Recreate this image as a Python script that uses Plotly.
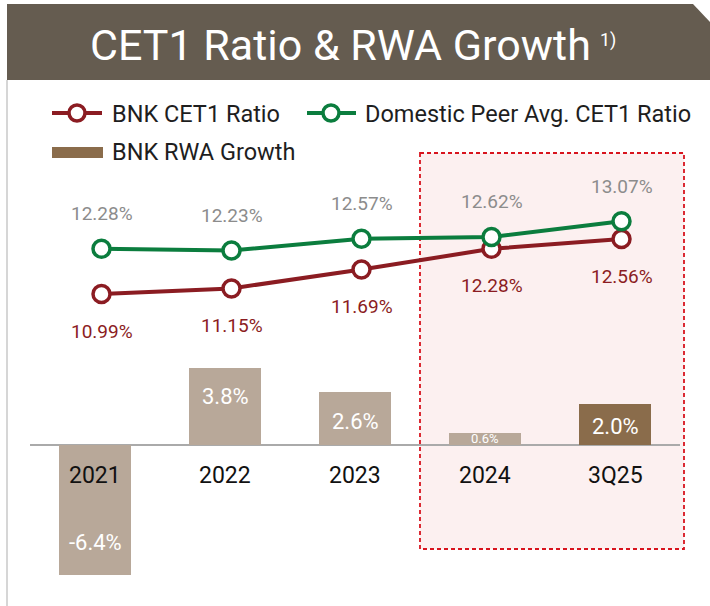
import plotly.graph_objects as go

# ---------------- data ----------------
categories = ["2021", "2022", "2023", "2024", "3Q25"]
bnk_cet1 = [10.99, 11.15, 11.69, 12.28, 12.56]
peer_cet1 = [12.28, 12.23, 12.57, 12.62, 13.07]
rwa_growth = [-6.4, 3.8, 2.6, 0.6, 2.0]
rwa_labels = ["-6.4%", "3.8%", "2.6%", "0.6%", "2.0%"]

# ---------------- styling ----------------
W, H = 710, 606
FONT = "Roboto"
RED = "#8b1c22"
GREEN = "#0b7d3e"
BAR = "#b8a899"
BAR_HI = "#8a6c4b"
TITLE_BG = "#655c50"
bar_colors = [BAR, BAR, BAR, BAR, BAR_HI]
bar_label_shift = [-33, 10, -3, 0, -2]
bar_label_size = [22, 22, 22, 13, 22]


def px(x):
    return x / W


def py(y):
    return 1 - y / H


fig = go.Figure()

fig.add_trace(go.Bar(
    x=categories, y=rwa_growth, width=0.555,
    marker=dict(color=bar_colors, line_width=0),
    xaxis="x", yaxis="y", showlegend=False, hoverinfo="skip",
))
fig.add_trace(go.Scatter(
    x=categories, y=bnk_cet1, mode="lines+markers",
    line=dict(color=RED, width=4),
    marker=dict(size=17, color="white", line=dict(color=RED, width=3.5)),
    xaxis="x2", yaxis="y2", showlegend=False, hoverinfo="skip",
))
fig.add_trace(go.Scatter(
    x=categories, y=peer_cet1, mode="lines+markers",
    line=dict(color=GREEN, width=4),
    marker=dict(size=17, color="white", line=dict(color=GREEN, width=3.5)),
    xaxis="x2", yaxis="y2", showlegend=False, hoverinfo="skip",
))

annotations = []
# category axes: annotation x given as category index
for i, v in enumerate(peer_cet1):
    annotations.append(dict(x=i, y=v, xref="x2", yref="y2", yshift=35,
                            text=f"{v:.2f}%", showarrow=False,
                            font=dict(family=FONT, size=19, color="#8c8c8c")))
for i, v in enumerate(bnk_cet1):
    annotations.append(dict(x=i, y=v, xref="x2", yref="y2", yshift=-37,
                            text=f"{v:.2f}%", showarrow=False,
                            font=dict(family=FONT, size=19, color=RED)))
for i, (v, t, s, fs) in enumerate(zip(rwa_growth, rwa_labels, bar_label_shift, bar_label_size)):
    annotations.append(dict(x=i, y=v / 2, xref="x", yref="y", yshift=s,
                            text=t, showarrow=False,
                            font=dict(family=FONT, size=fs, color="white")))
for i, c in enumerate(categories):
    annotations.append(dict(x=i, y=0, xref="x", yref="y", yshift=-31,
                            text=c, showarrow=False,
                            font=dict(family=FONT, size=23, color="#111111")))

# title
annotations.append(dict(x=px(340), y=py(45), xref="paper", yref="paper",
                        text="CET1 Ratio & RWA Growth", showarrow=False,
                        xanchor="center", yanchor="middle",
                        font=dict(family=FONT, size=43, color="white")))
annotations.append(dict(x=px(598), y=py(40), xref="paper", yref="paper",
                        text="1)", showarrow=False, xanchor="left", yanchor="middle",
                        font=dict(family=FONT, size=18, color="white")))

# legend texts
legend_items = [
    (110, 114, "BNK CET1 Ratio"),
    (363, 114, "Domestic Peer Avg. CET1 Ratio"),
    (110, 152, "BNK RWA Growth"),
]
for x, y, t in legend_items:
    annotations.append(dict(x=px(x), y=py(y), xref="paper", yref="paper",
                            text=t, showarrow=False, xanchor="left", yanchor="middle",
                            font=dict(family=FONT, size=23.5, color="#1e1e1e")))

shapes = [
    # title bar with cut corner
    dict(type="path", xref="paper", yref="paper",
         path=f"M {px(7)} {py(4)} L {px(693)} {py(4)} L {px(710)} {py(22)} "
              f"L {px(710)} {py(80)} L {px(7)} {py(80)} Z",
         fillcolor=TITLE_BG, line=dict(width=0), layer="above"),
    # left border
    dict(type="line", xref="paper", yref="paper", x0=px(7), x1=px(7),
         y0=py(80), y1=py(606), line=dict(color="#d6d6d6", width=2)),
    # highlight box
    dict(type="rect", xref="paper", yref="paper",
         x0=px(420), x1=px(684), y0=py(153), y1=py(549),
         fillcolor="#fcf0f0", line=dict(color="#d8141e", width=1.8, dash="4px,3px"),
         layer="below"),
    # legend swatches
    dict(type="line", xref="paper", yref="paper", x0=px(52), x1=px(102),
         y0=py(113), y1=py(113), line=dict(color=RED, width=4)),
    dict(type="circle", xref="paper", yref="paper", x0=px(69), x1=px(85),
         y0=py(121), y1=py(105), fillcolor="white", line=dict(color=RED, width=3.5)),
    dict(type="line", xref="paper", yref="paper", x0=px(307), x1=px(356),
         y0=py(113), y1=py(113), line=dict(color=GREEN, width=4)),
    dict(type="circle", xref="paper", yref="paper", x0=px(323), x1=px(339),
         y0=py(121), y1=py(105), fillcolor="white", line=dict(color=GREEN, width=3.5)),
    dict(type="rect", xref="paper", yref="paper", x0=px(52), x1=px(103),
         y0=py(158), y1=py(147), fillcolor=BAR_HI, line=dict(width=0)),
]

fig.update_layout(
    width=W, height=H,
    margin=dict(l=0, r=0, t=0, b=0),
    paper_bgcolor="white", plot_bgcolor="rgba(0,0,0,0)",
    showlegend=False,
    font=dict(family=FONT),
    xaxis=dict(domain=[px(30), px(680)], type="category", range=[-0.5, 4.5],
               showticklabels=False, showgrid=False, zeroline=False,
               showline=False, ticks="", fixedrange=True),
    xaxis2=dict(overlaying="x", type="category", range=[-0.55, 4.45],
                visible=False, fixedrange=True),
    yaxis=dict(domain=[py(600), py(100)], range=[-7.64, 16.99],
               showticklabels=False, showgrid=False, zeroline=True,
               zerolinecolor="#aaaaaa", zerolinewidth=1.5, fixedrange=True),
    yaxis2=dict(overlaying="y", range=[2.247, 16.533], visible=False, fixedrange=True),
    annotations=annotations,
    shapes=shapes,
    bargap=0,
)

fig.write_html("out.html", config={"displayModeBar": False},
               post_script="document.body.style.margin='0';document.body.style.overflow='hidden';")
